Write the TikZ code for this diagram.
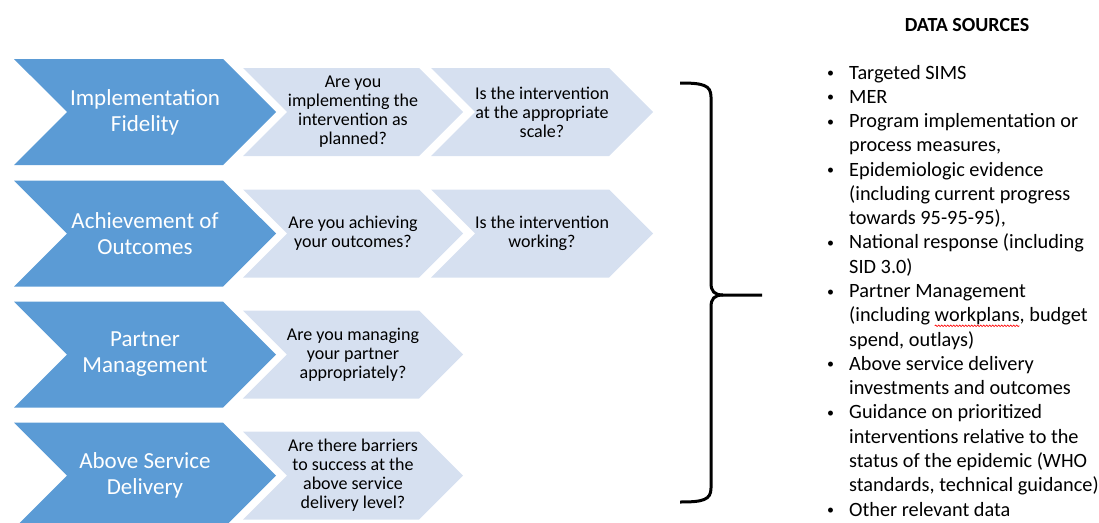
\documentclass[tikz,border=0pt]{standalone}
\usepackage{fontspec}
\setmainfont{Carlito}
\usetikzlibrary{shapes.symbols, decorations.pathmorphing}
\definecolor{chevblue}{HTML}{5B9BD5}
\definecolor{chevlight}{HTML}{D6E0F0}
\tikzstyle{stage}=[signal, signal to=east, signal from=west, signal pointer angle=90, fill=chevblue, text=white, minimum width=262pt, minimum height=106pt, inner sep=0pt, align=center, font=\fontsize{23}{26}\selectfont]
\tikzstyle{question}=[signal, signal to=east, signal from=west, signal pointer angle=90, fill=chevlight, text=black, minimum width=220pt, minimum height=88pt, inner sep=0pt, align=center, font=\fontsize{18}{19}\selectfont]
\newcommand{\bul}{\makebox[23pt][l]{\hspace{1pt}\raisebox{1.5pt}{\fontsize{14}{14}\selectfont\textbullet}}}
\newsavebox{\wavybox}
\newcommand{\wavy}[1]{\sbox{\wavybox}{#1}\usebox{\wavybox}\tikz[overlay]\draw[red, line width=0.6pt, decorate, decoration={snake, amplitude=0.8pt, segment length=3pt}] (-\wd\wavybox,-4pt) -- (0pt,-4pt);}

\begin{document}
\begin{tikzpicture}[x=1pt, y=-1pt]
  \useasboundingbox (0,0) rectangle (1099,522);
  % rows of chevrons
  \node[stage] (impl) at (145,112) {Implementation\\Fidelity};
  \node[question] (implq) at (353,112) {Are you\\implementing the\\intervention as\\planned?};
  \node[question] (scaleq) at (542,112) {Is the intervention\\at the appropriate\\scale?};
  \node[stage] (outc) at (145,233.5) {Achievement of\\Outcomes};
  \node[question] (outcq) at (353,233.5) {Are you achieving\\your outcomes?};
  \node[question] (workq) at (542,233.5) {Is the intervention\\working?};
  \node[stage] (partner) at (145,354.5) {Partner\\Management};
  \node[question] (partnerq) at (353,354.5) {Are you managing\\your partner\\appropriately?};
  \node[stage] (above) at (145,475.5) {Above Service\\Delivery};
  \node[question] (aboveq) at (353,475.5) {Are there barriers\\to success at the\\above service\\delivery level?};
  % brace
  \coordinate (btop) at (680,83);
  \coordinate (bbot) at (680,502);
  \coordinate (bmid) at (762,295);
  \draw[line width=3pt] (btop) .. controls (703,83) and (711,85) .. (711,97) -- (711,283)
    .. controls (711,291) and (714,295) .. (723,295) -- (bmid);
  \draw[line width=3pt] (bbot) .. controls (703,502) and (711,500) .. (711,488) -- (711,307)
    .. controls (711,299) and (714,295) .. (723,295);
  % data sources
  \node[font=\fontsize{20}{23}\selectfont\bfseries] (title) at (967,25) {DATA SOURCES};
  \node[anchor=base west, inner sep=0pt, font=\fontsize{20.3}{24.28}\selectfont] (sources) at (826,79) {%
    \begin{tabular}[t]{@{}l@{}l@{}}
      \bul & Targeted SIMS\\
      \bul & MER\\
      \bul & Program implementation or\\
           & process measures,\\
      \bul & Epidemiologic evidence\\
           & (including current progress\\
           & towards 95-95-95),\\
      \bul & National response (including\\
           & SID 3.0)\\
      \bul & Partner Management\\
           & (including \wavy{workplans}, budget\\
           & spend, outlays)\\
      \bul & Above service delivery\\
           & investments and outcomes\\
      \bul & Guidance on prioritized\\
           & interventions relative to the\\
           & status of the epidemic (WHO\\
           & standards, technical guidance)\\
      \bul & Other relevant data
    \end{tabular}};
\end{tikzpicture}
\end{document}
